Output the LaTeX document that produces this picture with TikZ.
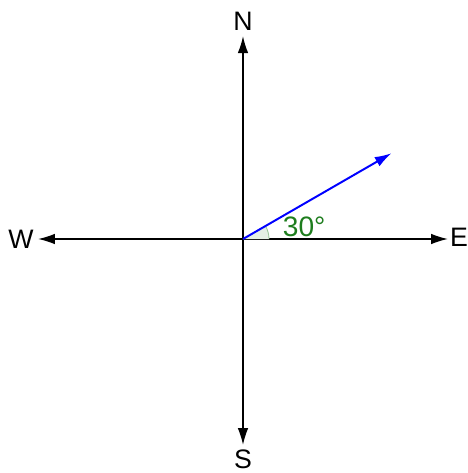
\documentclass[tikz,border=0pt]{standalone}
\usepackage{fontspec}
\setmainfont{Liberation Sans}
\usetikzlibrary{arrows.meta}
\definecolor{anglegreen}{RGB}{30,125,30}
\begin{document}
\begin{tikzpicture}[>={Latex[length=12pt,width=7.5pt]}, font=\fontsize{19}{23}\selectfont]
  \useasboundingbox (-6.075,-5.85) rectangle (5.625,5.975);
  % Origin and axis tips
  \coordinate (O) at (0,0);
  \coordinate (Ntip) at (0,5.07);
  \coordinate (Stip) at (0,-5.15);
  \coordinate (Wtip) at (-5.125,0);
  \coordinate (Etip) at (5.125,0);
  
  % Compass axes
  \draw[line width=1pt, <->] (Wtip) -- (Etip);
  \draw[line width=1pt, <->] (Stip) -- (Ntip);
  
  % Direction labels
  \node (N) at (0,5.45) {N};
  \node (S) at (0,-5.5) {S};
  \node (W) at (-5.55,0) {W};
  \node (E) at (5.4,0.03) {E};
  
  % Angle 30 degrees from E
  \fill[anglegreen!12] (O) -- (0.65,0) arc (0:30:0.65) -- cycle;
  \draw[anglegreen!45, line width=0.6pt] (0.65,0) arc (0:30:0.65);
  \node[text=anglegreen, font=\fontsize{20}{24}\selectfont] (ang) at (1.53,0.3) {30°};
  
  % Vector at 30 degrees
  \coordinate (V) at (30:4.29);
  \draw[blue, line width=1.4pt, ->] (O) -- (V);
\end{tikzpicture}
\end{document}
